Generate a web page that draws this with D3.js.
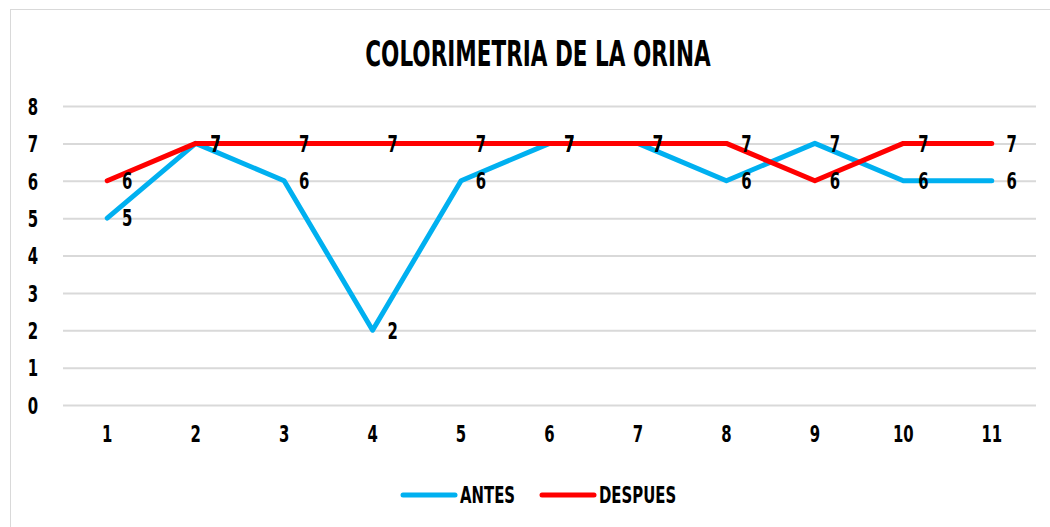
<!DOCTYPE html>
<html><head><meta charset="utf-8">
<script src="https://cdn.jsdelivr.net/npm/d3@7"></script>
<style>
body{margin:0;background:#fff;}
text{font-family:"DejaVu Sans Condensed","DejaVu Sans",sans-serif;font-weight:bold;fill:#000;}
</style></head><body>
<svg id="c" width="1050" height="527"></svg>
<script>
const categories = ["1","2","3","4","5","6","7","8","9","10","11"];
const antes = [5,7,6,2,6,7,7,6,7,6,6];
const despues = [6,7,7,7,7,7,7,7,6,7,7];
const yTicks = [0,1,2,3,4,5,6,7,8];
const seriesNames = ["ANTES","DESPUES"];
const colors = ["#00B0F0","#FF0000"];

(function(){
const S = 0.72; // horizontal condensing
const ST = 0.685;
const svg = d3.select("#c");
svg.append("rect").attr("x",10.5).attr("y",9.5).attr("width",1045).attr("height",525)
  .attr("fill","#fff").attr("stroke","#d9d9d9");

const pl=63, pr=1036, pt=106, pb=405;
const x = d3.scaleBand().domain(categories).range([pl,pr]);
const y = d3.scaleLinear().domain([0,8]).range([pb,pt]);

svg.append("text").attr("x",538/ST).attr("y",66).attr("text-anchor","middle")
  .attr("font-size",35).attr("transform",`scale(${ST},1)`)
  .text("COLORIMETRIA DE LA ORINA");

const yAxis = svg.append("g").attr("transform",`translate(${pl},0)`)
  .call(d3.axisLeft(y).tickValues(yTicks).tickSize(-(pr-pl)).tickFormat(d3.format("d")));
yAxis.select(".domain").remove();
yAxis.selectAll(".tick line").attr("stroke","#d9d9d9").attr("stroke-width",2);
yAxis.selectAll(".tick text").attr("x",-30/S).attr("transform",`scale(${S},1)`)
  .attr("font-size",23).attr("text-anchor","middle").attr("dy","0.36em");

const xAxis = svg.append("g").attr("transform",`translate(0,${pb})`)
  .call(d3.axisBottom(x).tickSize(0));
xAxis.select(".domain").remove();
xAxis.selectAll(".tick text").attr("font-size",23).attr("dy","1.5em").attr("transform",`scale(${S},1)`);

const cx = d => x(d)+x.bandwidth()/2;
const line = d3.line().x((d,i)=>cx(categories[i])).y(d=>y(d));
[antes,despues].forEach((s,k)=>{
  svg.append("path").datum(s).attr("d",line).attr("fill","none")
    .attr("stroke",colors[k]).attr("stroke-width",5).attr("stroke-linecap","round").attr("stroke-linejoin","round");
});
[antes,despues].forEach((s,k)=>{
  svg.append("g").attr("transform",`scale(${S},1)`).selectAll("text").data(s).join("text")
    .attr("x",(d,i)=>(cx(categories[i])+20)/S).attr("y",d=>y(d)).attr("dy","0.36em")
    .attr("text-anchor","middle").attr("font-size",23).text(d=>d);
});

const lg = svg.append("g");
const legX = [401,540];
seriesNames.forEach((n,k)=>{
  lg.append("line").attr("x1",legX[k]+2).attr("x2",legX[k]+54).attr("y1",495).attr("y2",495)
    .attr("stroke",colors[k]).attr("stroke-width",5).attr("stroke-linecap","round");
  lg.append("text").attr("x",(legX[k]+59)/S).attr("y",495).attr("dy","0.36em")
    .attr("transform",`scale(${S},1)`).attr("font-size",23).text(n);
});
})();
</script></body></html>
